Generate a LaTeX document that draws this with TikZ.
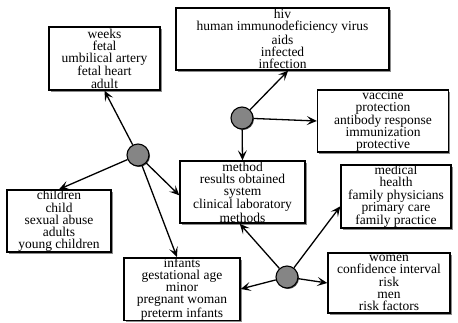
\documentclass[tikz,border=0pt]{standalone}
\usepackage{fontspec}
\setmainfont{Liberation Serif}
\usetikzlibrary{arrows.meta,shadows}
\tikzset{
  topic/.style={draw=black, line width=1.4pt, fill=white, align=center,
    inner sep=0pt, font=\fontsize{13.5}{12.2}\selectfont,
    drop shadow={shadow xshift=1.8pt, shadow yshift=-1.8pt, fill=black!45, opacity=1}},
  hub/.style={circle, draw=black, line width=1.1pt, fill=black!48, minimum size=22pt, inner sep=0pt,
    drop shadow={shadow xshift=1pt, shadow yshift=-1pt, fill=black!70, opacity=1}},
  link/.style={line width=1.3pt, -{Stealth[length=10pt,width=9pt,inset=4.5pt]}}
}
\begin{document}
\begin{tikzpicture}[x=1pt,y=-1pt]
\useasboundingbox (0,0) rectangle (458,322);
\node[topic, minimum width=111pt, minimum height=63pt] (w) at (104.5,58.5) {weeks\\fetal\\umbilical artery\\fetal heart\\adult};
\node[topic, minimum width=213pt, minimum height=62pt] (h) at (282.5,39) {hiv\\human immunodeficiency virus\\aids\\infected\\infection};
\node[topic, minimum width=131pt, minimum height=58pt] (v) at (383,121) {vaccine\\protection\\antibody response\\immunization\\protective};
\node[topic, minimum width=104pt, minimum height=62pt] (c) at (59,221) {children\\child\\sexual abuse\\adults\\young children};
\node[topic, minimum width=125pt, minimum height=62pt] (m) at (242.5,192) {method\\results obtained\\system\\clinical laboratory\\methods};
\node[topic, minimum width=116pt, minimum height=62pt] (i) at (182,289) {infants\\gestational age\\minor\\pregnant woman\\preterm infants};
\node[topic, minimum width=110pt, minimum height=63pt] (md) at (396,196.5) {medical\\health\\family physicians\\primary care\\family practice};
\node[topic, minimum width=122pt, minimum height=60pt] (wm) at (389,283) {women\\confidence interval\\risk\\men\\risk factors};
\node[hub] (lc) at (138,155) {};
\node[hub] (tc) at (242,118) {};
\node[hub] (bc) at (287,277) {};
\draw[link] (lc) -- (w.south);
\draw[link] (lc) -- (c.north);
\draw[link] (lc) -- (m.183);
\draw[link] (lc) -- (i.99);
\draw[link] (tc) -- (h.-80);
\draw[link] (tc) -- (v.west);
\draw[link] (tc) -- (m.north);
\draw[link] (bc) -- (m.-95);
\draw[link] (bc) -- (md.190);
\draw[link] (bc) -- (i.east);
\draw[link] (bc) -- (wm.west);
\end{tikzpicture}
\end{document}
